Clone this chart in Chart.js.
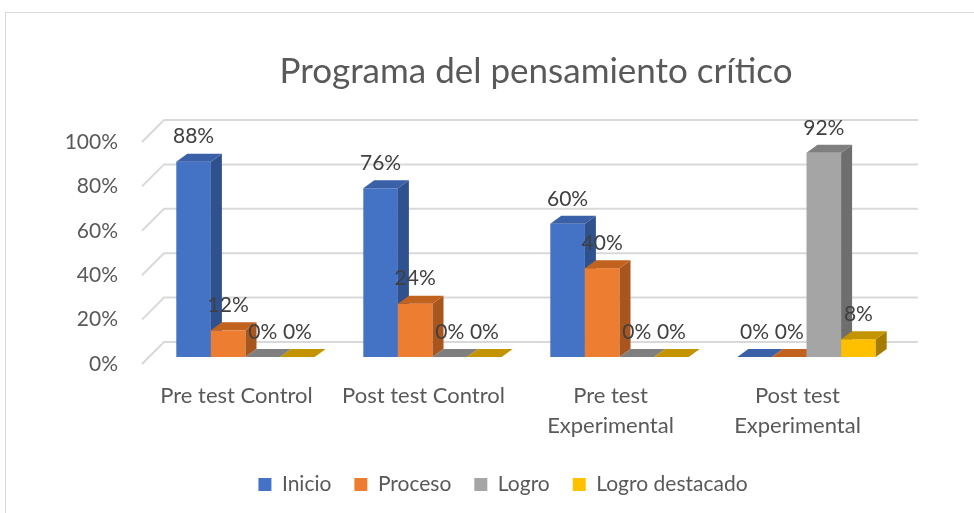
<!DOCTYPE html>
<html>
<head>
<meta charset="utf-8">
<script src="https://cdn.jsdelivr.net/npm/chart.js@4"></script>
<style>
  body { margin: 0; background: #fff; }
  #wrap { width: 974px; height: 513px; }
</style>
</head>
<body>
<div id="wrap"><canvas id="chart" width="974" height="513"></canvas></div>
<script>
const titleText = "Programa del pensamiento crítico";
const categories = ["Pre test Control", "Post test Control", ["Pre test", "Experimental"], ["Post test", "Experimental"]];
const inicio = [88, 76, 60, 0];
const proceso = [12, 24, 40, 0];
const logro = [0, 0, 0, 92];
const logroDestacado = [0, 0, 0, 8];
const yTicks = [0, 20, 40, 60, 80, 100];

const FONT = "Lato, 'Open Sans', sans-serif";
const depthX = 11, depthY = -8;

// front, side, top colours per series
const faces = [
    ["#4472C4", "#2F528F", "#3A60A8"],
    ["#ED7D31", "#A9561E", "#C2621F"],
    ["#A5A5A5", "#6E6E6E", "#7F7F7F"],
    ["#FFC000", "#A67C00", "#C49400"]
];

const frame3d = {
    id: "frame3d",
    afterLayout(chart) {
        // excel centres the legend a bit right of the canvas middle
        chart.legend.left += 53;
        chart.legend.right += 53;
    },
    beforeDraw(chart) {
        const c = chart.ctx;
        c.save();
        c.fillStyle = "#fff";
        c.fillRect(0, 0, chart.width, chart.height);
        c.strokeStyle = "#d9d9d9";
        c.lineWidth = 1;
        c.strokeRect(5.5, 12.5, 1000, 600);
        c.fillStyle = "#595959";
        c.font = "35px " + FONT;
        c.textAlign = "center";
        c.textBaseline = "middle";
        c.fillText(titleText, 536, 72);
        c.restore();
    },
    beforeDatasetsDraw(chart) {
        const c = chart.ctx;
        const y = chart.scales.y;
        c.save();
        c.strokeStyle = "#d9d9d9";
        c.lineWidth = 2;
        yTicks.forEach(v => {
            const py = y.getPixelForValue(v);
            c.beginPath();
            c.moveTo(142, py + 7);
            c.lineTo(164, py - 15);
            c.lineTo(918, py - 15);
            c.stroke();
        });
        c.restore();
    },
    beforeDatasetDraw() {
        return false;
    },
    afterDatasetsDraw(chart) {
        const c = chart.ctx;
        const n = chart.data.labels.length;
        c.save();
        for (let i = 0; i < n; i++) {
            chart.data.datasets.forEach((ds, d) => {
                const bar = chart.getDatasetMeta(d).data[i];
                const w = bar.width;
                const l = bar.x - w / 2, r = bar.x + w / 2;
                const top = bar.y, base = bar.base;
                const f = faces[d];
                c.fillStyle = f[0];
                c.fillRect(l, top, w, base - top);
                c.fillStyle = f[1];
                c.beginPath();
                c.moveTo(r, top);
                c.lineTo(r + depthX, top + depthY);
                c.lineTo(r + depthX, base + depthY);
                c.lineTo(r, base);
                c.closePath();
                c.fill();
                c.fillStyle = f[2];
                c.beginPath();
                c.moveTo(l, top);
                c.lineTo(r, top);
                c.lineTo(r + depthX, top + depthY);
                c.lineTo(l + depthX, top + depthY);
                c.closePath();
                c.fill();
            });
        }
        c.fillStyle = "#404040";
        c.font = "21px " + FONT;
        c.textAlign = "center";
        c.textBaseline = "middle";
        chart.data.datasets.forEach((ds, d) => {
            chart.getDatasetMeta(d).data.forEach((bar, i) => {
                c.fillText(ds.data[i] + "%", bar.x, bar.y - 25);
            });
        });
        c.restore();
    }
};

const series = [
    { label: "Inicio", data: inicio },
    { label: "Proceso", data: proceso },
    { label: "Logro", data: logro },
    { label: "Logro destacado", data: logroDestacado }
];

new Chart(document.getElementById("chart"), {
    type: "bar",
    data: {
        labels: categories,
        datasets: series.map((s, d) => ({
            label: s.label,
            data: s.data,
            backgroundColor: faces[d][0],
            borderWidth: 0,
            barPercentage: 1,
            categoryPercentage: 0.74
        }))
    },
    options: {
        responsive: false,
        animation: false,
        layout: { padding: { top: 135, right: 74, bottom: 8, left: 0 } },
        scales: {
            x: {
                grid: { display: false, drawTicks: false },
                border: { display: false },
                ticks: {
                    color: "#595959",
                    font: { family: FONT, size: 22, lineHeight: 1.35 },
                    padding: 24,
                    labelOffset: -9,
                    maxRotation: 0,
                    autoSkip: false
                },
                afterFit(scale) { scale.height = 94; }
            },
            y: {
                min: 0,
                max: 100,
                grid: { display: false, drawTicks: false },
                border: { display: false },
                ticks: {
                    stepSize: 20,
                    color: "#595959",
                    font: { family: FONT, size: 21 },
                    padding: 34,
                    labelOffset: 7,
                    callback: v => v + "%"
                },
                afterFit(scale) { scale.width = 152; }
            }
        },
        plugins: {
            title: { display: false },
            tooltip: { enabled: false },
            legend: {
                position: "bottom",
                labels: {
                    color: "#595959",
                    font: { family: FONT, size: 21 },
                    boxWidth: 13,
                    boxHeight: 13,
                    padding: 23
                }
            }
        }
    },
    plugins: [frame3d]
});
</script>
</body>
</html>
